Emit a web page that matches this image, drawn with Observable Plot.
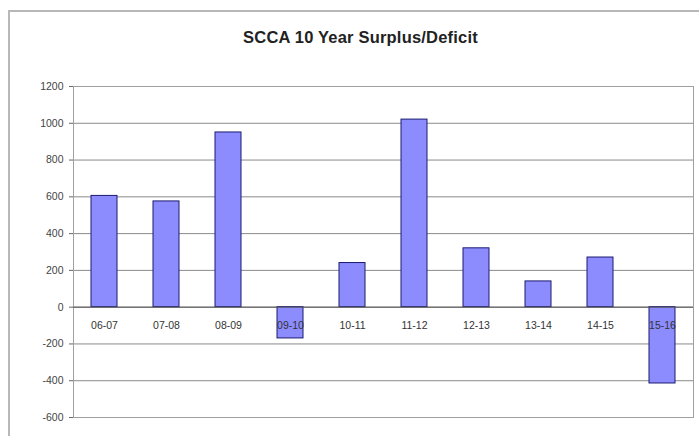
<!DOCTYPE html>
<html><head><meta charset="utf-8">
<script src="https://cdn.jsdelivr.net/npm/d3@7"></script>
<script src="https://cdn.jsdelivr.net/npm/@observablehq/plot@0.6"></script>
<style>
body{margin:0;width:699px;height:436px;background:#fff;position:relative;overflow:hidden;font-family:Arial,"Liberation Sans",sans-serif;}
#frame{position:absolute;left:8px;top:10px;right:-2px;bottom:-2px;border-top:2px solid #b8b8b8;border-left:2px solid #b8b8b8;pointer-events:none;}
#title{height:60px;box-sizing:border-box;padding-top:27px;padding-left:22px;text-align:center;font-weight:bold;font-size:16.5px;letter-spacing:0.2px;color:#222;line-height:20px;}
</style></head><body>
<div id="frame"></div>
<div id="title">SCCA 10 Year Surplus/Deficit</div>
<div id="chart"></div>
<script>
const categories = ["06-07","07-08","08-09","09-10","10-11","11-12","12-13","13-14","14-15","15-16"];
const values = [605, 575, 950, -170, 240, 1020, 320, 140, 270, -415];
const yTicks = [-600,-400,-200,0,200,400,600,800,1000,1200];

const data = categories.map((c,i)=>({cat:c, v:values[i]}));

const chart = Plot.plot({
  width: 699,
  height: 376,
  marginTop: 26,
  marginBottom: 19,
  marginLeft: 73,
  marginRight: 6,
  style: {fontFamily: "Arial, 'Liberation Sans', sans-serif", fontSize: "10px", color: "#333", background: "white"},
  x: {domain: categories, paddingInner: 0.58, paddingOuter: 0.29, axis: null},
  y: {domain: [-600, 1200], ticks: yTicks, axis: null},
  marks: [
    Plot.gridY(yTicks, {stroke: "#8a8a8a", strokeOpacity: 1, strokeWidth: 1}),
    Plot.frame({stroke: "#a0a0a0"}),
    Plot.axisY(yTicks, {label: null, tickSize: 4, tickPadding: 6, stroke: "#666", fill: "#444", fontSize: 10.5, tickFormat: d => String(d)}),
    Plot.barY(data, {x: "cat", y: "v", fill: "#8c8cff", stroke: "#1a1a70", strokeWidth: 1}),
    Plot.ruleY([0], {stroke: "#555", strokeWidth: 1}),
    Plot.text(data, {x: "cat", y: () => 0, text: "cat", dy: 18, fill: "#333", fontSize: 10.5})
  ]
});
document.getElementById("chart").appendChild(chart);
</script>
</body></html>
